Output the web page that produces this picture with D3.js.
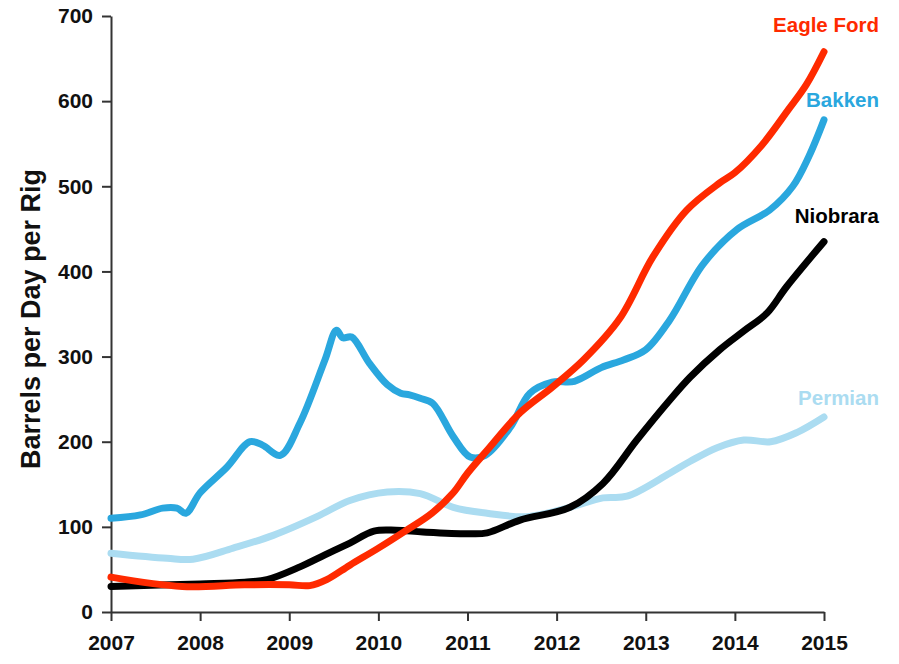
<!DOCTYPE html>
<meta charset="utf-8">
<style>
    body { margin: 0; background: #fff; }
    text { font-family: "Liberation Sans", Arial, sans-serif; font-weight: bold; }
    .axis path, .axis line { stroke: #333; stroke-width: 2px; }
    .axis text { font-size: 21px; fill: #111; }
</style>
<body>
<script src="https://cdn.jsdelivr.net/npm/d3@7"></script>
<script>
    var yearTicks = [2007, 2008, 2009, 2010, 2011, 2012, 2013, 2014, 2015]
    var valueTicks = [0, 100, 200, 300, 400, 500, 600, 700]

    var bakkenX = [2007.0, 2007.33, 2007.58, 2007.74, 2007.84, 2008.0, 2008.3, 2008.56, 2008.7, 2008.9, 2009.12, 2009.4, 2009.53, 2009.6, 2009.7, 2009.9, 2010.1, 2010.25, 2010.35, 2010.47, 2010.61, 2010.84, 2011.03, 2011.2, 2011.48, 2011.7, 2011.95, 2012.2, 2012.5, 2012.75, 2013.0, 2013.27, 2013.64, 2014.02, 2014.39, 2014.65, 2014.83, 2015.0]
    var bakken = [110, 114, 122, 122, 116, 140, 170, 200, 196, 184, 222, 296, 331, 322, 323, 292, 267, 257, 255, 251, 245, 206, 182, 184, 217, 257, 270, 271, 287, 296, 308, 343, 408, 449, 472, 500, 535, 578]

    var eagleX = [2007.0, 2007.8, 2008.5, 2009.0, 2009.23, 2009.42, 2009.68, 2010.0, 2010.3, 2010.6, 2010.84, 2011.0, 2011.22, 2011.59, 2011.95, 2012.3, 2012.71, 2013.08, 2013.46, 2013.83, 2014.0, 2014.3, 2014.6, 2014.8, 2015.0]
    var eagleFord = [41, 30, 32, 32, 31, 38, 55, 75, 95, 116, 140, 163, 190, 234, 264, 296, 345, 417, 472, 504, 516, 548, 590, 619, 658]

    var niobraraX = [2007.0, 2008.0, 2008.5, 2008.75, 2009.12, 2009.4, 2009.68, 2009.95, 2010.2, 2010.5, 2011.0, 2011.22, 2011.59, 2012.15, 2012.52, 2012.9, 2013.27, 2013.5, 2013.83, 2014.1, 2014.36, 2014.58, 2015.0]
    var niobrara = [30, 33, 35, 38, 53, 67, 81, 95, 96, 94, 92, 93, 108, 123, 151, 202, 249, 276, 308, 330, 351, 382, 435]

    var permianX = [2007.0, 2007.63, 2007.92, 2008.37, 2008.82, 2009.31, 2009.68, 2010.1, 2010.47, 2010.84, 2011.22, 2011.67, 2012.15, 2012.52, 2012.79, 2013.27, 2013.5, 2013.8, 2014.1, 2014.4, 2014.7, 2015.0]
    var permian = [69, 63, 62, 75, 90, 112, 131, 141, 139, 123, 116, 112, 123, 134, 136, 163, 177, 193, 202, 200, 211, 229]

    var series = [
        { name: "Permian", xs: permianX, ys: permian, color: "#abdcf1", labelY: 398 },
        { name: "Niobrara", xs: niobraraX, ys: niobrara, color: "#000000", labelY: 216 },
        { name: "Bakken", xs: bakkenX, ys: bakken, color: "#2aa7de", labelY: 100 },
        { name: "Eagle Ford", xs: eagleX, ys: eagleFord, color: "#ff2a00", labelY: 25 }
    ]

    var width = 899,
        height = 664

    var svg = d3.select("body").append("svg")
        .attr("width", width)
        .attr("height", height)

    var x = d3.scaleLinear().domain([2007, 2015]).range([111, 824])
    var y = d3.scaleLinear().domain([0, 700]).range([612, 16])

    // axes
    svg.append("g")
        .attr("class", "axis")
        .attr("transform", "translate(0,612)")
        .call(d3.axisBottom(x).tickValues(yearTicks).tickFormat(d3.format("d")).tickSizeInner(9).tickSizeOuter(0).tickPadding(14))

    svg.append("g")
        .attr("class", "axis")
        .attr("transform", "translate(111,0)")
        .call(d3.axisLeft(y).tickValues(valueTicks).tickSizeInner(9).tickSizeOuter(0).tickPadding(9))

    svg.append("text")
        .attr("transform", "translate(40,319) rotate(-90)")
        .attr("text-anchor", "middle")
        .style("font-size", "27px")
        .style("fill", "#111")
        .text("Barrels per Day per Rig")

    var line = d3.line()
        .x(function (d) { return x(d[0]) })
        .y(function (d) { return y(d[1]) })
        .curve(d3.curveCatmullRom.alpha(0.5))

    svg.selectAll(".series")
        .data(series)
        .enter().append("path")
        .attr("class", "series")
        .attr("fill", "none")
        .attr("stroke", function (d) { return d.color })
        .attr("stroke-width", 7)
        .attr("stroke-linecap", "round")
        .attr("stroke-linejoin", "round")
        .attr("d", function (d) {
            return line(d.xs.map(function (v, i) { return [v, d.ys[i]] }))
        })

    svg.selectAll(".label")
        .data(series)
        .enter().append("text")
        .attr("class", "label")
        .attr("x", 879)
        .attr("y", function (d) { return d.labelY })
        .attr("dy", "0.35em")
        .attr("text-anchor", "end")
        .style("font-size", "20.5px")
        .style("fill", function (d) { return d.color })
        .text(function (d) { return d.name })
</script>
</body>
